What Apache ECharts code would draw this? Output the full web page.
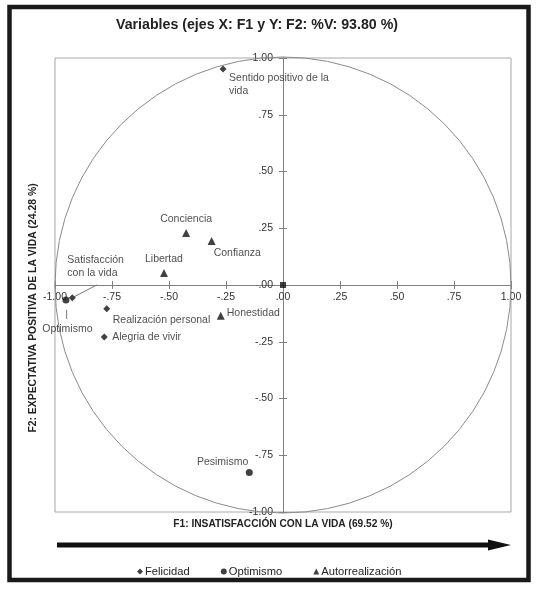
<!DOCTYPE html>
<html><head><meta charset="utf-8">
<script src="https://cdn.jsdelivr.net/npm/echarts@6/dist/echarts.min.js"></script>
<style>html,body{margin:0;padding:0;background:#fff}#c{width:541px;height:593px}</style>
</head><body><div id="c"></div>
<script>
// ---- data ----
var titleText = 'Variables (ejes X: F1 y Y: F2: %V: 93.80 %)';
var xName = 'F1: INSATISFACCIÓN CON LA VIDA (69.52 %)';
var yName = 'F2: EXPECTATIVA POSITIVA DE LA VIDA (24.28 %)';
var tickValues = [-1, -0.75, -0.5, -0.25, 0, 0.25, 0.5, 0.75, 1];
var tickLabels = ['-1.00', '-.75', '-.50', '-.25', '.00', '.25', '.50', '.75', '1.00'];

var felicidadNames = ['Sentido positivo de la\nvida', 'Satisfacción\ncon la vida', 'Realización personal', 'Alegria de vivir'];
var felicidadX = [-0.263, -0.924, -0.773, -0.784];
var felicidadY = [0.952, -0.056, -0.105, -0.229];

var optimismoNames = ['Optimismo', 'Pesimismo'];
var optimismoX = [-0.952, -0.148];
var optimismoY = [-0.066, -0.826];

var autoNames = ['Conciencia', 'Confianza', 'Libertad', 'Honestidad'];
var autoX = [-0.425, -0.313, -0.522, -0.273];
var autoY = [0.229, 0.194, 0.053, -0.136];

var originX = [0];
var originY = [0];

// ---- label placement (styling) ----
var labelPlace = {
  'Sentido positivo de la\nvida': [6, 16, 'left'],
  'Satisfacción\ncon la vida': [-5, -31, 'left'],
  'Realización personal': [6, 11, 'left'],
  'Alegria de vivir': [8, 0, 'left'],
  'Optimismo': [1.5, 29, 'center'],
  'Pesimismo': [-1, -10, 'right'],
  'Conciencia': [0, -14, 'center'],
  'Confianza': [2, 12, 'left'],
  'Libertad': [0, -14, 'center'],
  'Honestidad': [6, -3, 'left']
};

function pts(names, xs, ys) {
  return names.map(function (n, i) {
    var p = labelPlace[n];
    return {
      name: n, value: [xs[i], ys[i]],
      label: { show: true, position: 'inside', formatter: n, offset: [p[0], p[1]], align: p[2], verticalAlign: 'middle' }
    };
  });
}

var font = 'Liberation Sans, Arial, sans-serif';
var labelStyle = { color: '#222', fontSize: 10.5, fontFamily: font, lineHeight: 13 };
function fmt(v) {
  for (var i = 0; i < tickValues.length; i++) if (Math.abs(tickValues[i] - v) < 1e-9) return tickLabels[i];
  return '';
}
var G = { left: 55, top: 58, width: 456, height: 454 };
function ax(extra) {
  var base = {
    type: 'value', min: -1, max: 1, interval: 0.25,
    splitLine: { show: false },
    axisLine: { show: true, onZero: false, lineStyle: { color: '#808080', width: 1 } },
    axisTick: { show: true, length: 4, lineStyle: { color: '#808080' } }
  };
  return Object.assign(base, extra);
}

var chart = echarts.init(document.getElementById('c'), null, { renderer: 'canvas' });
var option = {
  animation: false,
  grid: Object.assign({ show: true, borderColor: '#a8a8a8', borderWidth: 1 }, G),
  xAxis: [
    ax({ position: 'bottom', offset: -G.height / 2, axisLabel: { formatter: fmt, margin: 7, fontSize: 10.5, color: '#333', fontFamily: font } }),
    ax({ position: 'top', offset: -G.height / 2, axisLabel: { show: false } })
  ],
  yAxis: [
    ax({ position: 'left', offset: -G.width / 2, axisLabel: { formatter: fmt, margin: 10, fontSize: 10.5, color: '#333', fontFamily: font } }),
    ax({ position: 'right', offset: -G.width / 2, axisLabel: { show: false } })
  ],
  legend: {
    left: 132, top: 561, itemWidth: 6, itemHeight: 6, itemGap: 31,
    data: ['Felicidad', 'Optimismo', 'Autorrealización'],
    textStyle: { fontSize: 11.2, color: '#222', fontFamily: font, padding: [0, 0, 0, -3] }
  },
  series: [
    { name: 'Felicidad', type: 'scatter', symbol: 'diamond', symbolSize: 7, itemStyle: { color: '#111' }, label: labelStyle, data: pts(felicidadNames, felicidadX, felicidadY), z: 5 },
    { name: 'Optimismo', type: 'scatter', symbol: 'circle', symbolSize: 7, itemStyle: { color: '#111' }, label: labelStyle, data: pts(optimismoNames, optimismoX, optimismoY), z: 5 },
    { name: 'Autorrealización', type: 'scatter', symbol: 'triangle', symbolSize: 8, itemStyle: { color: '#111' }, label: labelStyle, data: pts(autoNames, autoX, autoY), z: 5 },
    { name: 'origen', type: 'scatter', symbol: 'rect', symbolSize: 6, itemStyle: { color: '#111' }, data: originX.map(function (x, i) { return [x, originY[i]]; }), z: 5 }
  ]
};
chart.setOption(option);

var c0 = chart.convertToPixel({ gridIndex: 0 }, [0, 0]);
var c1 = chart.convertToPixel({ gridIndex: 0 }, [1, 0]);
var r = c1[0] - c0[0];
var pSat = chart.convertToPixel({ gridIndex: 0 }, [felicidadX[1], felicidadY[1]]);
var pOpt = chart.convertToPixel({ gridIndex: 0 }, [optimismoX[0], optimismoY[0]]);

chart.setOption({
  graphic: [
    { type: 'circle', shape: { cx: c0[0], cy: c0[1], r: r }, style: { fill: 'none', stroke: '#8a8a8a', lineWidth: 1 }, z: 1, silent: true },
    { type: 'line', shape: { x1: pSat[0] + 24.4, y1: pSat[1] - 12.7, x2: pSat[0] + 2, y2: pSat[1] - 1 }, style: { stroke: '#777', lineWidth: 1 }, z: 3 },
    { type: 'line', shape: { x1: pOpt[0] + 0.7, y1: pOpt[1] + 10, x2: pOpt[0] + 0.7, y2: pOpt[1] + 19 }, style: { stroke: '#777', lineWidth: 1 }, z: 3 },
    { type: 'text', style: { text: titleText, x: 257, y: 25, align: 'center', verticalAlign: 'middle', font: 'bold 14.2px ' + font, fill: '#222' }, z: 3 },
    { type: 'text', style: { text: xName, x: 283, y: 524, align: 'center', verticalAlign: 'middle', font: 'bold 10.2px ' + font, fill: '#222' }, z: 3 },
    { type: 'text', x: 33, y: 308, rotation: Math.PI / 2, style: { text: yName, x: 0, y: 0, align: 'center', verticalAlign: 'middle', font: 'bold 10.4px ' + font, fill: '#222' }, z: 3 },
    { type: 'line', shape: { x1: 57, y1: 545, x2: 492, y2: 545 }, style: { stroke: '#111', lineWidth: 5 }, z: 3 },
    { type: 'polygon', shape: { points: [[488, 539.5], [511, 545], [488, 550.5]] }, style: { fill: '#111' }, z: 3 },
    { type: 'rect', shape: { x: 9.5, y: 7, width: 519, height: 573 }, style: { fill: 'none', stroke: '#1a1a1a', lineWidth: 4.5 }, z: 3 }
  ]
});
</script></body></html>
